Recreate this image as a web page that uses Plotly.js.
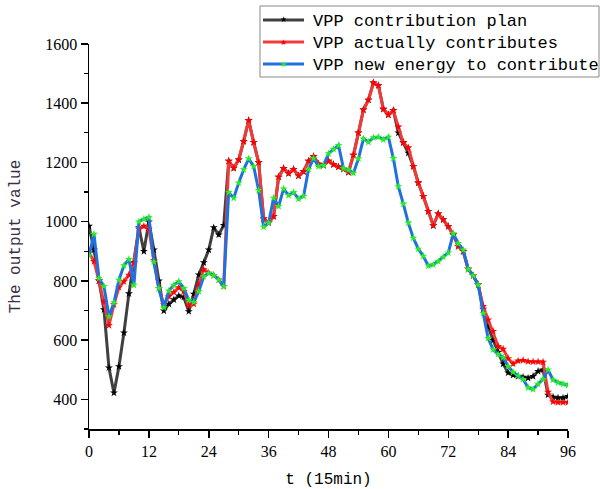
<!DOCTYPE html>
<html>
<head>
<meta charset="utf-8">
<script src="https://cdn.plot.ly/plotly-3.0.1.min.js"></script>
<style>html,body{margin:0;padding:0;background:#fff;}#chart{width:600px;height:489px;}</style>
</head>
<body>
<div id="chart"></div>
<script>
// time index (15 min steps)
const t = [];
for (let i = 0; i <= 96; i++) t.push(i);

const seriesNames = ["VPP contribution plan", "VPP actually contributes", "VPP new energy to contribute"];

const planValues = [
  985, 905, 800, 703, 507, 422, 511, 625, 757, 862,
  980, 900, 1000, 905, 800, 699, 722, 737, 750, 745,
  697, 756, 821, 862, 905, 980, 956, 988, 1205, 1181,
  1209, 1271, 1342, 1268, 1200, 1010, 996, 1018, 1151, 1180,
  1163, 1177, 1155, 1169, 1205, 1220, 1195, 1190, 1205, 1193,
  1185, 1178, 1167, 1225, 1300, 1378, 1411, 1469, 1460, 1380,
  1361, 1376, 1300, 1268, 1232, 1187, 1131, 1086, 1035, 987,
  1027, 1007, 984, 956, 917, 900, 840, 818, 787, 705,
  645, 600, 560, 520, 490, 482, 478, 475, 472, 478,
  495, 500, 415, 408, 405, 405, 410
];

const actualValues = [
  895, 866, 800, 730, 650, 720, 778, 798, 820, 860,
  975, 985, 975, 870, 775, 720, 748, 762, 778, 765,
  718, 722, 788, 838, 827, 819, 804, 782, 1205, 1181,
  1209, 1271, 1342, 1268, 1200, 1010, 996, 1018, 1151, 1180,
  1163, 1177, 1155, 1169, 1205, 1220, 1195, 1190, 1205, 1193,
  1185, 1178, 1167, 1225, 1300, 1378, 1411, 1469, 1460, 1380,
  1361, 1376, 1320, 1266, 1250, 1187, 1131, 1086, 1035, 987,
  1027, 1007, 984, 956, 917, 900, 840, 818, 787, 714,
  669, 630, 579, 570, 538, 520, 530, 532, 528, 527,
  527, 526, 425, 392, 390, 390, 390
];

const newEnergyValues = [
  886, 958, 809, 782, 680, 727, 803, 852, 873, 786,
  1000, 1009, 1015, 864, 775, 710, 767, 786, 798, 775,
  735, 728, 765, 815, 826, 819, 804, 781, 1099, 1080,
  1131, 1176, 1213, 1187, 1106, 982, 996, 1080, 1052, 1111,
  1089, 1099, 1077, 1086, 1177, 1214, 1187, 1190, 1230, 1245,
  1258, 1180, 1174, 1164, 1213, 1280, 1269, 1284, 1286, 1277,
  1286, 1214, 1119, 1060, 996, 945, 908, 884, 851, 855,
  866, 881, 895, 960, 927, 905, 840, 818, 787, 691,
  606, 568, 552, 542, 512, 492, 480, 468, 440, 434,
  452, 468, 500, 466, 457, 452, 448
];

const yTickVals = [400, 600, 800, 1000, 1200, 1400, 1600];
const xTickVals = [0, 12, 24, 36, 48, 60, 72, 84, 96];

const lineColors = ["#404040", "#f23a3a", "#2170e0"];
const markerColors = ["#000000", "#ff0000", "#22ee22"];

const monoFont = "Liberation Mono, DejaVu Sans Mono, monospace";
const serifFont = "Liberation Serif, Times New Roman, serif";

const W = 600, H = 489;
const M = {l: 89, r: 32, t: 44, b: 60};
const PW = W - M.l - M.r, PH = H - M.t - M.b;
const px2x = p => (p - M.l) / PW;
const px2y = p => (H - M.b - p) / PH;

function mk(y, i) {
  return {
    x: t, y: y, name: seriesNames[i], type: "scatter", mode: "lines+markers",
    showlegend: false,
    line: {color: lineColors[i], width: 3},
    marker: {symbol: "star", size: 6, color: markerColors[i]}
  };
}

const data = [mk(planValues, 0), mk(actualValues, 1), mk(newEnergyValues, 2)];

// legend box drawn as shapes + text annotations
const shapes = [{
  type: "rect", xref: "paper", yref: "paper",
  x0: px2x(260), x1: px2x(599), y0: px2y(77), y1: px2y(6),
  line: {color: "#888", width: 1}, fillcolor: "#fff", layer: "above"
}];
const annotations = [];
const rowY = [20, 42, 64];
seriesNames.forEach((name, i) => {
  shapes.push({
    type: "line", xref: "paper", yref: "paper",
    x0: px2x(263), x1: px2x(304), y0: px2y(rowY[i]), y1: px2y(rowY[i]),
    line: {color: lineColors[i], width: 3}, layer: "above"
  });
  annotations.push({
    xref: "paper", yref: "paper", x: px2x(283.5), y: px2y(rowY[i]),
    text: "\u2605", showarrow: false, xanchor: "center", yanchor: "middle",
    font: {family: "DejaVu Sans", size: 8, color: markerColors[i]}
  });
  annotations.push({
    xref: "paper", yref: "paper", x: px2x(311), y: px2y(rowY[i] + 1),
    text: name, showarrow: false, xanchor: "left", yanchor: "middle",
    font: {family: monoFont, size: 17, color: "#000"}
  });
});

const layout = {
  width: W, height: H,
  margin: {l: M.l, r: M.r, t: M.t, b: M.b, autoexpand: false},
  paper_bgcolor: "#fff", plot_bgcolor: "#fff",
  showlegend: false,
  shapes: shapes,
  annotations: annotations,
  xaxis: {
    range: [0, 96], tickvals: xTickVals, showgrid: false, zeroline: false,
    showline: true, linecolor: "#000", linewidth: 1.5,
    ticks: "outside", ticklen: 7, tickwidth: 1.5, tickcolor: "#000",
    minor: {dtick: 6, ticks: "outside", ticklen: 4, tickwidth: 1.2, tickcolor: "#000"},
    tickfont: {family: serifFont, size: 16, color: "#000"},
    title: {text: "t (15min)", font: {family: monoFont, size: 16, color: "#000"}, standoff: 14}
  },
  yaxis: {
    range: [300, 1600], tickvals: yTickVals, showgrid: false, zeroline: false,
    showline: true, linecolor: "#000", linewidth: 1.5,
    ticks: "outside", ticklen: 7, tickwidth: 1.5, tickcolor: "#000",
    minor: {dtick: 100, ticks: "outside", ticklen: 4, tickwidth: 1.2, tickcolor: "#000"},
    tickfont: {family: serifFont, size: 16, color: "#000"},
    title: {text: "The output value", font: {family: monoFont, size: 16, color: "#3a2f45"}, standoff: 20}
  }
};

Plotly.newPlot("chart", data, layout, {displayModeBar: false, staticPlot: true});
</script>
</body>
</html>
